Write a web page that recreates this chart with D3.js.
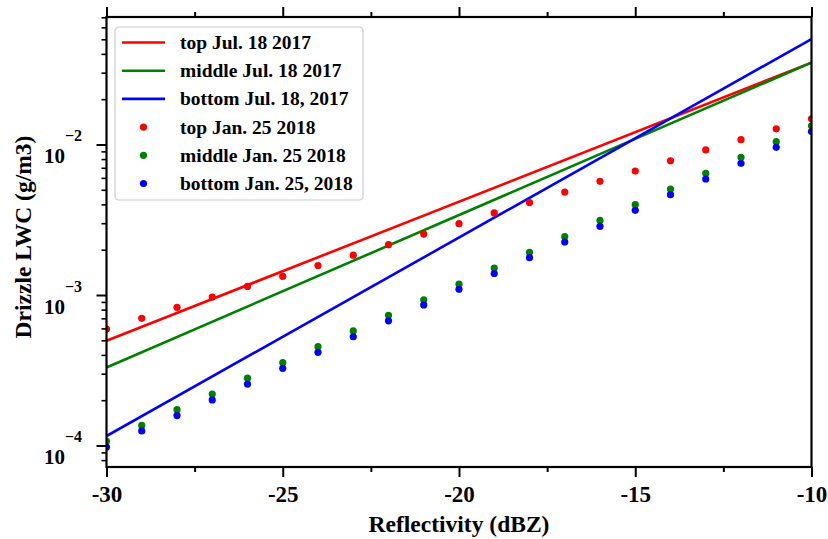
<!DOCTYPE html>
<html><head><meta charset="utf-8">
<script src="https://cdn.jsdelivr.net/npm/d3@7"></script>
<style>
body{margin:0;background:#fff;}
text{font-family:"Liberation Serif","Times New Roman",serif;font-weight:bold;fill:#000;}
</style></head>
<body><svg id="c" width="828" height="539"></svg>
<script>
// Categories (reflectivity, dBZ)
const dbz = [-30,-29,-28,-27,-26,-25,-24,-23,-22,-21,-20,-19,-18,-17,-16,-15,-14,-13,-12,-11,-10];
// Jan. 25 2018 scatter series (g/m3)
const topJan = [5.94e-4,7.0e-4,8.28e-4,9.7e-4,1.14e-3,1.33e-3,1.57e-3,1.84e-3,2.16e-3,2.54e-3,2.98e-3,3.51e-3,4.11e-3,4.83e-3,5.69e-3,6.66e-3,7.8e-3,9.2e-3,1.076e-2,1.27e-2,1.48e-2];
const midJan = [1.066e-4,1.36e-4,1.73e-4,2.2e-4,2.8e-4,3.55e-4,4.54e-4,5.77e-4,7.33e-4,9.3e-4,1.18e-3,1.51e-3,1.92e-3,2.44e-3,3.13e-3,3.98e-3,5.06e-3,6.44e-3,8.22e-3,1.044e-2,1.33e-2];
const botJan = [9.77e-5,1.25e-4,1.58e-4,2.01e-4,2.56e-4,3.26e-4,4.16e-4,5.28e-4,6.74e-4,8.59e-4,1.09e-3,1.39e-3,1.77e-3,2.25e-3,2.86e-3,3.65e-3,4.64e-3,5.9e-3,7.5e-3,9.58e-3,1.22e-2];
// Jul. 18 2017 fitted lines (end points)
const lineDbz = [-30,-10];
const topJul = [4.97e-4,0.035];
const midJul = [3.30e-4,0.035];
const botJul = [1.156e-4,0.0502];
// Ticks / labels
const xTicks = [-30,-25,-20,-15,-10];
const xMinor = [-27.5,-22.5,-17.5,-12.5];
const yTickExp = [-4,-3,-2];
const legendLabels = ["top Jul. 18 2017","middle Jul. 18 2017","bottom Jul. 18, 2017","top Jan. 25 2018","middle Jan. 25 2018","bottom Jan. 25, 2018"];
const colors = ["#ff0000","#008000","#0000ff"];

const L=106.5,R=811.5,T=17,B=467;
const svg=d3.select("#c");
const x=d3.scaleLinear().domain([-30,-10]).range([L,R]);
const y=d3.scaleLog().domain([7.2e-5,0.0703]).range([B,T]);

svg.append("defs").append("clipPath").attr("id","clip").append("rect")
  .attr("x",L).attr("y",T).attr("width",R-L).attr("height",B-T);
const plot=svg.append("g").attr("clip-path","url(#clip)");

// lines
[topJul,midJul,botJul].forEach((s,i)=>{
  plot.append("path").datum(lineDbz.map((d,j)=>[d,s[j]]))
    .attr("fill","none").attr("stroke",colors[i]).attr("stroke-width",2.6)
    .attr("d",d3.line().x(d=>x(d[0])).y(d=>y(d[1])));
});
// dots
[topJan,midJan,botJan].forEach((s,i)=>{
  plot.selectAll(null).data(s.map((v,j)=>[dbz[j],v])).enter().append("circle")
    .attr("cx",d=>x(d[0])).attr("cy",d=>y(d[1])).attr("r",3.6).attr("fill",colors[i]);
});

// axes
const tickLen=10, minorLen=5;
const bx=svg.append("g").attr("transform",`translate(0,${B})`)
  .call(d3.axisBottom(x).tickValues(xTicks).tickSize(tickLen).tickPadding(9).tickFormat(d=>String(d)));
bx.select(".domain").remove();
bx.selectAll("line").attr("stroke-width",2);
bx.selectAll("text").attr("font-size",23).attr("font-family","Liberation Serif").attr("font-weight","bold");
svg.append("g").attr("transform",`translate(0,${B})`)
  .call(d3.axisBottom(x).tickValues(xMinor).tickSize(minorLen).tickFormat(""))
  .call(g=>{g.select(".domain").remove();g.selectAll("line").attr("stroke-width",2);});
const tx=svg.append("g").attr("transform",`translate(0,${T})`)
  .call(d3.axisTop(x).tickValues(xTicks).tickSize(tickLen).tickFormat(""));
tx.select(".domain").remove(); tx.selectAll("line").attr("stroke-width",2);
svg.append("g").attr("transform",`translate(0,${T})`)
  .call(d3.axisTop(x).tickValues(xMinor).tickSize(minorLen).tickFormat(""))
  .call(g=>{g.select(".domain").remove();g.selectAll("line").attr("stroke-width",2);});

// y axis ticks
const majors=yTickExp.map(e=>Math.pow(10,e));
const minors=[];
[-5,-4,-3,-2].forEach(e=>{for(let k=2;k<=9;k++){const v=k*Math.pow(10,e);if(v>=y.domain()[0]&&v<=y.domain()[1])minors.push(v);}});
const ly=svg.append("g").attr("transform",`translate(${L},0)`)
  .call(d3.axisLeft(y).tickValues(majors).tickSize(tickLen).tickFormat(""));
ly.select(".domain").remove(); ly.selectAll("line").attr("stroke-width",2);
svg.append("g").attr("transform",`translate(${L},0)`)
  .call(d3.axisLeft(y).tickValues(minors).tickSize(minorLen).tickFormat(""))
  .call(g=>{g.select(".domain").remove();g.selectAll("line").attr("stroke-width",1.6);});
// y tick labels 10^e
yTickExp.forEach(e=>{
  const yy=y(Math.pow(10,e));
  svg.append("text").attr("x",65).attr("y",yy+18.5).attr("text-anchor","end")
    .attr("font-size",21).text("10");
  svg.append("text").attr("x",65).attr("y",yy-3.5).attr("text-anchor","start")
    .attr("font-size",16).text("\u2212"+Math.abs(e));
});

// spines
svg.append("rect").attr("x",L).attr("y",T).attr("width",R-L).attr("height",B-T)
  .attr("fill","none").attr("stroke","#000").attr("stroke-width",2.2);

// axis titles
svg.append("text").attr("x",(L+R)/2).attr("y",532).attr("text-anchor","middle")
  .attr("font-size",23.5).text("Reflectivity (dBZ)");
svg.append("text").attr("transform",`translate(31,237) rotate(-90)`).attr("text-anchor","middle")
  .attr("font-size",23.5).text("Drizzle LWC (g/m3)");

// legend
const lg=svg.append("g");
lg.append("rect").attr("x",115).attr("y",27).attr("width",248).attr("height",173).attr("rx",4)
  .attr("fill","#fff").attr("fill-opacity",0.85).attr("stroke","#cccccc").attr("stroke-width",1.2);
legendLabels.forEach((lab,i)=>{
  const cy=42.5+i*28.2;
  const c=colors[i%3];
  if(i<3){
    lg.append("line").attr("x1",122).attr("x2",165).attr("y1",cy).attr("y2",cy)
      .attr("stroke",c).attr("stroke-width",2.6);
  } else {
    lg.append("circle").attr("cx",143.5).attr("cy",cy).attr("r",3.6).attr("fill",c);
  }
  lg.append("text").attr("x",180).attr("y",cy+6.5).attr("font-size",19.5).text(lab);
});
</script></body></html>
